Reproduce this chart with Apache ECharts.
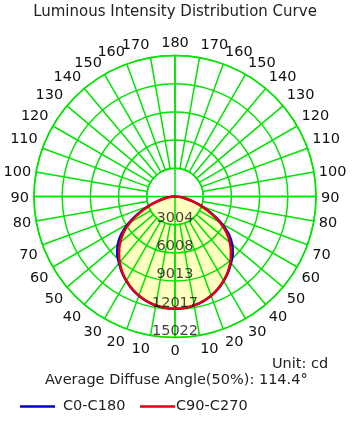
<!DOCTYPE html>
<html>
<head>
<meta charset="utf-8">
<script src="https://cdn.jsdelivr.net/npm/echarts@6/dist/echarts.min.js"></script>
<style>
html,body{margin:0;padding:0;background:#fff;}
#chart{width:359px;height:421px;}
</style>
</head>
<body>
<div id="chart"></div>
<script>
// Gamma angles (deg from nadir)
const gammaAngles = [0,5,10,15,20,25,30,35,40,45,50,55,60,65,70,75,80,85,90];
// Intensities (cd)
const c0c180 = [11960,11910,11780,11560,11250,10860,10390,9860,9270,8710,7950,7000,5740,4370,3050,1910,1080,480,0];
const c90c270 = [11960,11910,11780,11550,11240,10840,10360,9810,9160,8430,7620,6700,5500,4190,2990,1910,1080,480,0];
// Ring values and labels
const ringValues = [3004.4, 6008.8, 9013.2, 12017.6, 15022];
const ringLabels = ['3004','6008','9013','12017','15022'];
const seriesNames = ['C0-C180','C90-C270'];

const FONT = 'DejaVu Sans';
const FS = 14.5;
const GREEN = '#00e400';
const CENTER = [175, 196.5];
const R = 141;
const STEP = ringValues[0];
const MAXV = ringValues[ringValues.length - 1];

function buildCurve(vals) {
  const out = [];
  for (let i = gammaAngles.length - 1; i >= 0; i--) out.push([vals[i], gammaAngles[i]]);
  for (let i = 0; i < gammaAngles.length; i++) out.push([vals[i], 360 - gammaAngles[i]]);
  return out;
}

function rs(extra) {
  return Object.assign({fontFamily: FONT, fontSize: FS, color: '#111'}, extra);
}

function angleLabel(v) {
  if (v >= 360) return '';
  const g = v <= 180 ? v : 360 - v;
  const left = v > 0 && v < 180;
  const right = v > 180;
  let key;
  if (g >= 80 && g <= 100) key = 'mid';
  else if (g > 100) {
    key = 'top';
    if (g === 170) key = left ? 'topL' : 'topR';
  } else {
    key = 'bot';
    if (g === 10) key = left ? 'botL' : 'botR';
  }
  return '{' + key + '|' + g + '}';
}

const chart = echarts.init(document.getElementById('chart'), null, {renderer: 'canvas'});
chart.setOption({
  animation: false,
  backgroundColor: '#fff',
  legend: [
    {data: [seriesNames[0]], left: 20, top: 399, padding: 0, itemWidth: 35, itemHeight: 2.5, icon: 'rect',
     textStyle: {fontFamily: FONT, fontSize: FS, color: '#222', padding: [0,0,0,3]}},
    {data: [seriesNames[1]], left: 140, top: 399, padding: 0, itemWidth: 35, itemHeight: 2.5, icon: 'rect',
     textStyle: {fontFamily: FONT, fontSize: FS, color: '#222', padding: [0,0,0,-4]}}
  ],
  polar: [
    {center: CENTER, radius: [R / ringValues.length, R]},
    {center: CENTER, radius: [0, R]}
  ],
  angleAxis: [
    {
      polarIndex: 0, type: 'value', min: 0, max: 360, interval: 10,
      startAngle: 270, clockwise: true, z: 3,
      axisLine: {show: true, lineStyle: {color: GREEN, width: 1.5}},
      axisTick: {show: false},
      splitLine: {show: true, lineStyle: {color: GREEN, width: 1.5}},
      axisLabel: {
        show: true, margin: 5, color: '#111', fontFamily: FONT, fontSize: FS,
        formatter: angleLabel,
        rich: {
          mid: rs({padding: [3, 0, 0, 0]}),
          top: rs({lineHeight: 14}),
          topL: rs({lineHeight: 14, padding: [0, 28, 0, 0]}),
          topR: rs({lineHeight: 14, padding: [0, 0, 0, 28]}),
          bot: rs({lineHeight: 18}),
          botL: rs({lineHeight: 18, padding: [0, 18, 0, 0]}),
          botR: rs({lineHeight: 18, padding: [0, 0, 0, 18]})
        }
      }
    },
    {
      polarIndex: 1, type: 'value', min: 0, max: 360, interval: 90,
      startAngle: 270, clockwise: true, z: 3,
      axisLine: {show: false}, axisTick: {show: false}, axisLabel: {show: false},
      splitLine: {show: true, lineStyle: {color: GREEN, width: 1.5}}
    }
  ],
  radiusAxis: [
    {
      polarIndex: 0, type: 'value', min: STEP, max: MAXV, interval: STEP, z: 3,
      axisLine: {show: false}, axisTick: {show: false}, axisLabel: {show: false},
      splitLine: {show: true, lineStyle: {color: GREEN, width: 1.5}}
    },
    {
      polarIndex: 1, type: 'value', min: 0, max: MAXV, z: 3,
      axisLine: {show: false}, axisTick: {show: false}, axisLabel: {show: false},
      splitLine: {show: false}
    }
  ],
  series: [
    {
      name: 'fill', type: 'line', coordinateSystem: 'polar', polarIndex: 1,
      data: buildCurve(c90c270), symbol: 'none', smooth: 0.3, z: 1,
      lineStyle: {width: 0, opacity: 0},
      areaStyle: {color: '#ffffc0', opacity: 1},
      silent: true
    },
    {
      name: seriesNames[0], type: 'line', coordinateSystem: 'polar', polarIndex: 1,
      data: buildCurve(c0c180), symbol: 'none', smooth: 0.3, z: 5,
      color: '#0000cc',
      lineStyle: {color: '#0000cc', width: 2.5}
    },
    {
      name: seriesNames[1], type: 'line', coordinateSystem: 'polar', polarIndex: 1,
      data: buildCurve(c90c270), symbol: 'none', smooth: 0.3, z: 6,
      color: '#e00010',
      lineStyle: {color: '#e00010', width: 2.5}
    },
    {
      name: 'ringLabels', type: 'scatter', coordinateSystem: 'polar', polarIndex: 1,
      data: ringValues.map(function (v) { return [v, 0]; }),
      symbolSize: 0.1, z: 10, silent: true,
      itemStyle: {color: 'rgba(0,0,0,0)'},
      label: {
        show: true, position: 'top', distance: -1,
        fontFamily: FONT, fontSize: FS, color: '#111',
        formatter: function (p) { return ringLabels[p.dataIndex]; }
      }
    }
  ],
  graphic: [
    {type: 'text', x: 175, y: 12,
     style: {text: 'Luminous Intensity Distribution Curve', fontFamily: FONT, fontSize: 15,
             fill: '#222', textAlign: 'center', textVerticalAlign: 'middle'}},
    {type: 'text', left: 272, top: 357,
     style: {text: 'Unit: cd', fontFamily: FONT, fontSize: FS, fill: '#222'}},
    {type: 'text', left: 45, top: 373,
     style: {text: 'Average Diffuse Angle(50%): 114.4°', fontFamily: FONT, fontSize: FS, fill: '#222'}}
  ]
});
</script>
</body>
</html>
